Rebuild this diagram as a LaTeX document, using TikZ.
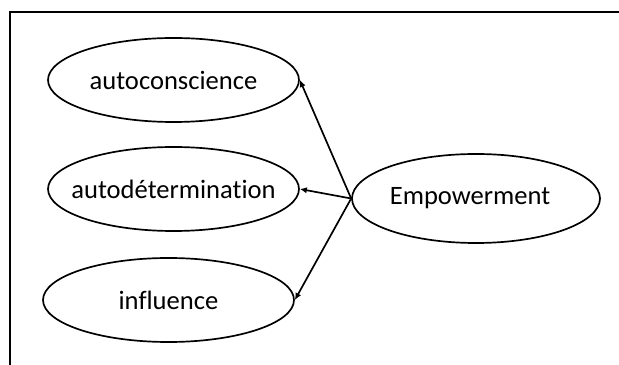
\documentclass[tikz,border=0pt]{standalone}
\usepackage{fontspec}
\setmainfont{Carlito}[Ligatures=NoCommon]
\usetikzlibrary{shapes.geometric,arrows.meta,positioning}
\definecolor{myline}{RGB}{0,0,0}
\newcommand{\ovaltext}[1]{\makebox[0pt]{#1}}

\begin{document}
\begin{tikzpicture}[font=\fontsize{18.9}{22}\selectfont,
    oval/.style={ellipse, draw=myline, line width=1.2pt, inner sep=0pt,
                 minimum width=6.275cm, minimum height=2.1cm},
    link/.style={draw=myline, line width=1.2pt, -{Latex[length=5pt,width=4.5pt]}}]
  \useasboundingbox (0,0) rectangle (15.475,9.125);
  % frame, only its top and left sides fall inside the picture
  \draw[myline, line width=1.6pt] (15.475,8.8175) -| (0.25,0);

  \foreach \n/\t/\x/\y in {ac/autoconscience/4.3375/7.125,
                           ad/autodétermination/4.3375/4.4,
                           inf/influence/4.2125/1.625}{
    \node[oval] (\n) at (\x,\y){\ovaltext{\t}};
  }
  \node[oval, minimum width=6.2cm, minimum height=2.225cm]
    (emp) at (11.9,4.1625){\ovaltext{\hspace*{-0.3cm}Empowerment}};

  \foreach \n in {ac,ad,inf}{
    \draw[link] (emp.west) -- (\n.east);
  }
\end{tikzpicture}
\end{document}
